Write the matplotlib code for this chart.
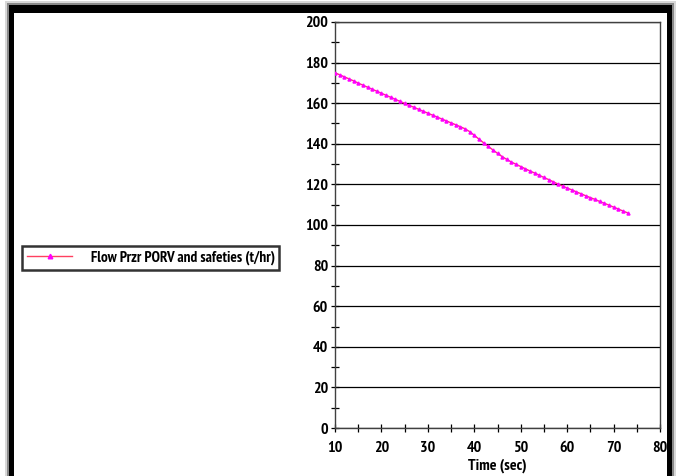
import matplotlib.pyplot as plt
import matplotlib.patches as mpatches
from matplotlib import font_manager
import numpy as np

# narrow bold font, pick the first one that is installed
have = {f.name for f in font_manager.fontManager.ttflist}
narrow = [n for n in ['Liberation Sans Narrow', 'Arial Narrow', 'PT Sans Narrow',
                      'Roboto Condensed', 'Archivo Narrow', 'Pragati Narrow']
          if n in have]
plt.rcParams['font.family'] = narrow[:1] + ['DejaVu Sans']
plt.rcParams['font.weight'] = 'bold'

# data
time_s = list(range(10, 74))
flow = [175.0, 174.0, 173.0, 172.0, 171.0, 169.9, 168.9, 167.9, 166.9, 165.9,
        164.9, 163.9, 162.9, 161.9, 160.9, 159.9, 158.9, 158.0, 157.0, 156.0,
        155.1, 154.1, 153.2, 152.2, 151.3, 150.3, 149.4, 148.4, 147.4, 146.0,
        144.2, 142.3, 140.5, 138.7, 137.0, 135.3, 133.7, 132.3, 131.0, 129.9,
        128.8, 127.7, 126.6, 125.6, 124.5, 123.4, 122.4, 121.3, 120.2, 119.2,
        118.2, 117.3, 116.3, 115.4, 114.4, 113.5, 112.6, 111.6, 110.7, 109.8,
        108.8, 107.9, 106.9, 106.0]
label = 'Flow Przr PORV and safeties (t/hr)'
xlabel = 'Time (sec)'

W, H = 680, 476
fig = plt.figure(figsize=(6.8, 4.76), dpi=100)

# window frame with a soft shadow
for pad, col in [(4, '#d8d8d8'), (2, '#8a8a8a')]:
    fig.patches.append(mpatches.Rectangle(
        ((9 - pad) / W, -0.1), (663 + 2 * pad) / W, (471 + pad) / H + 0.1,
        transform=fig.transFigure, facecolor=col, edgecolor='none', zorder=0))
fig.patches.append(mpatches.Rectangle(
    (9 / W, -0.1), 663 / W, 471 / H + 0.1, transform=fig.transFigure,
    facecolor='black', edgecolor='none', zorder=0))
fig.patches.append(mpatches.Rectangle(
    (14 / W, -0.1), 653 / W, 463 / H + 0.1, transform=fig.transFigure,
    facecolor='white', edgecolor='none', zorder=0))

ax = fig.add_axes([335 / W, 1 - 428 / H, 325 / W, 406 / H])
ax.set_zorder(2)
ax.set_facecolor('none')
ln, = ax.plot(time_s, flow, color='#ff2a80', lw=1.0, marker='^', ms=2.2,
              mfc='#ff00ff', mec='#ff00ff', zorder=3, label=label)

ax.set_xlim(10, 80)
ax.set_ylim(0, 200)
ax.set_xticks(np.arange(10, 81, 10))
ax.set_xticks(np.arange(15, 80, 10), minor=True)
ax.set_yticks(np.arange(0, 201, 20))
ax.set_yticks(np.arange(10, 200, 20), minor=True)
ax.grid(axis='y', color='black', lw=0.9)
ax.tick_params(axis='both', which='both', direction='inout', length=6,
               width=0.9, labelsize=11.5, pad=2)
ax.tick_params(axis='x', pad=6)
for s in ax.spines.values():
    s.set_color('#404040')
    s.set_linewidth(1.0)
ax.set_xlabel(xlabel, fontsize=11.5, fontweight='bold', labelpad=3)
for t in ax.get_xticklabels() + ax.get_yticklabels():
    t.set_fontweight('bold')

leg = fig.legend(handles=[ln], loc='center left',
                 bbox_to_anchor=(22 / W, 1 - 258 / H), frameon=True,
                 fancybox=False, edgecolor='black', handlelength=3.0,
                 handletextpad=1.2, prop={'size': 11, 'weight': 'bold'},
                 borderpad=0.3, borderaxespad=0, markerscale=1.5)
leg.set_zorder(3)
leg.get_frame().set_linewidth(1.8)
leg.legend_handles[0].set_color('#ff4060')
leg.legend_handles[0].set_markevery([1])

fig.savefig('out.png', dpi=100)
